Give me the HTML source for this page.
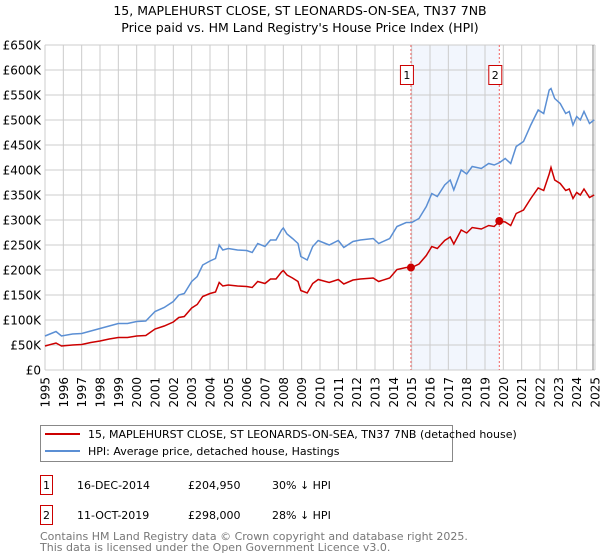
<!DOCTYPE html>
<html><head><meta charset="utf-8"><style>
body{margin:0;background:#fff;width:600px;height:560px;overflow:hidden;font-family:"Liberation Sans","DejaVu Sans",sans-serif}
svg{position:absolute;left:0;top:0}
</style></head><body>
<svg id="chart" width="600" height="560" font-family="DejaVu Sans, Liberation Sans, sans-serif">
<text x="300" y="15" text-anchor="middle" font-size="12.5">15, MAPLEHURST CLOSE, ST LEONARDS-ON-SEA, TN37 7NB</text>
<text x="300" y="32" text-anchor="middle" font-size="12.5">Price paid vs. HM Land Registry's House Price Index (HPI)</text>
<g id="grid"></g><g id="marks"></g><g id="axes"></g>
<g>
<rect x="40.5" y="425.5" width="412" height="36" fill="#fff" stroke="#888"/>
<line x1="45" y1="434" x2="80" y2="434" stroke="#cc0000" stroke-width="2"/>
<text x="88" y="438" font-size="11">15, MAPLEHURST CLOSE, ST LEONARDS-ON-SEA, TN37 7NB (detached house)</text>
<line x1="45" y1="451" x2="80" y2="451" stroke="#5b8fd4" stroke-width="2"/>
<text x="88" y="455" font-size="11">HPI: Average price, detached house, Hastings</text>
</g>
<g font-size="11">
<rect x="40.5" y="475.5" width="12" height="19" fill="#fff" stroke="#cc0000"/><text x="46.5" y="489" text-anchor="middle">1</text>
<text x="77" y="489">16-DEC-2014</text><text x="188" y="489">£204,950</text><text x="272" y="489">30% ↓ HPI</text>
<rect x="40.5" y="505.5" width="12" height="19" fill="#fff" stroke="#cc0000"/><text x="46.5" y="519" text-anchor="middle">2</text>
<text x="77" y="519">11-OCT-2019</text><text x="188" y="519">£298,000</text><text x="272" y="519">28% ↓ HPI</text>
</g>
<text x="40" y="540" font-size="11" fill="#777">Contains HM Land Registry data © Crown copyright and database right 2025.</text>
<text x="40" y="551" font-size="11" fill="#777">This data is licensed under the Open Government Licence v3.0.</text>
</svg>
<script>
const years=[1995,1995.6,1995.9,1996.5,1997,1997.5,1998,1998.5,1999,1999.5,2000,2000.5,2001,2001.5,2002,2002.3,2002.6,2003,2003.3,2003.6,2004,2004.3,2004.5,2004.7,2005,2005.5,2006,2006.3,2006.6,2007,2007.3,2007.6,2007.9,2008.0,2008.2,2008.5,2008.8,2008.95,2009.3,2009.6,2009.9,2010.5,2011,2011.3,2011.8,2012.2,2012.9,2013.2,2013.8,2014.2,2014.7,2015,2015.4,2015.8,2016.1,2016.4,2016.8,2017.1,2017.3,2017.7,2018,2018.3,2018.8,2019.2,2019.5,2019.8,2020.1,2020.4,2020.7,2021.1,2021.5,2021.9,2022.2,2022.5,2022.6,2022.8,2023.1,2023.4,2023.6,2023.8,2024,2024.2,2024.4,2024.7,2024.95];
const hpi=[68,77,68,72,73,78,83,88,93,93,97,98,117,125,137,150,153,177,187,210,218,223,250,240,243,240,239,235,253,247,260,260,280,284,272,263,253,227,220,247,259,250,259,245,257,260,263,253,263,287,295,295,303,327,353,347,370,380,360,400,392,407,403,413,410,415,423,413,447,457,490,520,513,560,563,543,533,513,517,490,507,500,517,493,500];
const price=[48,54,48,50,51,55,58,62,65,65,68,69,82,88,96,105,107,124,131,147,153,156,175,168,170,168,167,165,177,173,182,182,196,199,190,184,177,159,154,173,181,175,181,172,180,182,184,177,184,201,205,205,212,229,247,243,259,266,252,280,274,285,282,289,287,298,296,289,313,320,343,364,359,392,405,380,373,359,362,343,355,350,362,345,350];
const saleYears=[2014.96,2019.78];
const salePrices=[204.95,298];
const saleLabels=["1","2"];
const yTicks=[0,50,100,150,200,250,300,350,400,450,500,550,600,650];
const yTickLabels=["£0","£50K","£100K","£150K","£200K","£250K","£300K","£350K","£400K","£450K","£500K","£550K","£600K","£650K"];
const xTicks=[1995,1996,1997,1998,1999,2000,2001,2002,2003,2004,2005,2006,2007,2008,2009,2010,2011,2012,2013,2014,2015,2016,2017,2018,2019,2020,2021,2022,2023,2024,2025];

const X=y=>45+(y-1995)*550/30, Y=v=>370-v*325/650;
const NS="http://www.w3.org/2000/svg";
function mk(p,t,a){const e=document.createElementNS(NS,t);for(const k in a)e.setAttribute(k,a[k]);p.appendChild(e);return e;}
const grid=document.getElementById('grid'),marks=document.getElementById('marks'),axes=document.getElementById('axes');
let sh=mk(grid,'rect',{x:X(saleYears[0]),y:Y(650),width:X(saleYears[1])-X(saleYears[0]),height:Y(0)-Y(650),fill:'#f2f6fd'});


yTicks.forEach((v,i)=>{
 let l=mk(grid,'line',{x1:45,x2:595,y1:Y(v),y2:Y(v),stroke:'#cccccc'});
 
 
 let t=mk(axes,'text',{x:41,y:Y(v)+4.5,'text-anchor':'end','font-size':12});
 t.textContent=yTickLabels[i];
 
 
});
xTicks.forEach(yr=>{
 let l=mk(grid,'line',{x1:X(yr),x2:X(yr),y1:Y(650),y2:Y(0),stroke:'#cccccc'});
 
 
 let t=mk(axes,'text',{x:0,y:0,'text-anchor':'end','font-size':12,transform:`translate(${X(yr)+4.5},377) rotate(-90)`});
 t.textContent=yr;
 
 
});
let nl=mk(grid,'line',{x1:593,x2:593,y1:Y(650),y2:Y(0),stroke:'#888'});


saleYears.forEach((yr,i)=>{
 let l=mk(marks,'line',{x1:X(yr),x2:X(yr),y1:Y(650),y2:Y(0),stroke:'#f06060','stroke-dasharray':'2,2'});
 
 
});
const pts=(arr)=>arr.map((v,i)=>X(years[i]).toFixed(1)+','+Y(v).toFixed(1)).join(' ');
let hl=mk(marks,'polyline',{points:pts(hpi),fill:'none',stroke:'#5b8fd4','stroke-width':1.5});


let pl=mk(marks,'polyline',{points:pts(price),fill:'none',stroke:'#cc0000','stroke-width':1.5});


saleYears.forEach((yr,i)=>{
 let c=mk(marks,'circle',{cx:X(yr),cy:Y(salePrices[i]),r:4,fill:'#cc0000'});
 
 
 let r=mk(marks,'rect',{x:X(yr)-10.5,y:65.5,width:13,height:19,fill:'#fff',stroke:'#cc0000'});
 
 
 let t=mk(marks,'text',{x:X(yr)-4,y:79,'text-anchor':'middle','font-size':11});
 t.textContent=saleLabels[i];
 
 
});
</script>
</body></html>
